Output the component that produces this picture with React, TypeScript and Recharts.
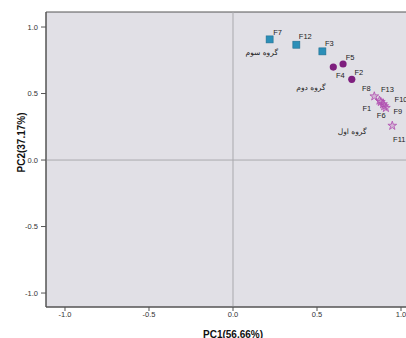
import React from 'react';
import { ScatterChart, Scatter, XAxis, YAxis, ReferenceLine, ReferenceArea } from 'recharts';

const squareNames = ['F7', 'F12', 'F3'];
const squareX = [0.218, 0.377, 0.532];
const squareY = [0.907, 0.867, 0.817];

const circleNames = ['F5', 'F4', 'F2'];
const circleX = [0.655, 0.597, 0.707];
const circleY = [0.722, 0.699, 0.607];

const starNames = ['F8', 'F13', 'F1', 'F10', 'F6', 'F9', 'F11'];
const starX = [0.841, 0.872, 0.88, 0.893, 0.9, 0.91, 0.948];
const starY = [0.479, 0.447, 0.437, 0.42, 0.405, 0.392, 0.258];

const groupNames = ['گروه سوم', 'گروه دوم', 'گروه اول'];
const groupX = [0.171, 0.464, 0.709];
const groupY = [0.805, 0.549, 0.213];

const axisTicks = [-1, -0.5, 0, 0.5, 1];
const xTitle = 'PC1(56.66%)';
const yTitle = 'PC2(37.17%)';

// label placement (text-centre offsets in px from the marker)
const labelOffset: Record<string, [number, number]> = {
  F7: [8, -7], F12: [9, -8], F3: [7, -8],
  F5: [7, -7], F4: [7, 8], F2: [7, -7],
  F8: [-8, -8], F13: [8, -11.5], F1: [-14, 6.5], F10: [18, -5],
  F6: [-3, 9], F9: [12, 4], F11: [7, 14],
};

const build = (names: string[], xs: number[], ys: number[]) =>
  names.map((name, i) => ({ name, x: xs[i], y: ys[i] }));

const squares = build(squareNames, squareX, squareY);
const circles = build(circleNames, circleX, circleY);
const stars = build(starNames, starX, starY);
const groups = build(groupNames, groupX, groupY);

const FONT = 'Liberation Sans, Arial, sans-serif';

const PointLabel = ({ cx, cy, name }: any) => {
  const [dx, dy] = labelOffset[name] || [6, -6];
  return (
    <text x={cx + dx} y={cy + dy} textAnchor="middle" dominantBaseline="central"
      fontSize={7.5} fontFamily={FONT} fill="#222">{name}</text>
  );
};

const SquareShape = (p: any) => (
  <g>
    <rect x={p.cx - 3.5} y={p.cy - 3.5} width={7} height={7} fill="#2b8fb8" stroke="#1f6e8f" strokeWidth={0.6} />
    <PointLabel cx={p.cx} cy={p.cy} name={p.payload.name} />
  </g>
);

const CircleShape = (p: any) => (
  <g>
    <circle cx={p.cx} cy={p.cy} r={3.6} fill="#7e1f7e" />
    <PointLabel cx={p.cx} cy={p.cy} name={p.payload.name} />
  </g>
);

const StarShape = (p: any) => {
  const pts: string[] = [];
  for (let i = 0; i < 10; i++) {
    const r = i % 2 === 0 ? 4.6 : 1.8;
    const a = -Math.PI / 2 + (i * Math.PI) / 5;
    pts.push(`${p.cx + r * Math.cos(a)},${p.cy + r * Math.sin(a)}`);
  }
  return (
    <g>
      <polygon points={pts.join(' ')} fill="rgba(176,80,176,0.3)" stroke="#b04cb0" strokeWidth={0.8} />
      <PointLabel cx={p.cx} cy={p.cy} name={p.payload.name} />
    </g>
  );
};

const GroupText = (p: any) => (
  <text x={p.cx} y={p.cy} textAnchor="middle" dominantBaseline="central"
    fontSize={7.5} fontFamily="DejaVu Sans, sans-serif" fill="#222">{p.payload.name}</text>
);

const YTitle = (props: any) => {
  const vb = props.viewBox || { x: 0, y: 0, width: 0, height: 0 };
  const x = vb.x + 5.5;
  const y = vb.y + vb.height / 2 - 17;
  return (
    <text x={x} y={y} transform={`rotate(-90, ${x}, ${y})`} textAnchor="middle" dominantBaseline="central"
      fontSize={10} fontWeight="bold" fontFamily={FONT} fill="#111">{yTitle}</text>
  );
};

const XTitle = (props: any) => {
  const vb = props.viewBox || { x: 0, y: 0, width: 0, height: 0 };
  const x = vb.x + vb.width / 2;
  const y = vb.y + 27;
  return (
    <text x={x} y={y} textAnchor="middle" dominantBaseline="central"
      fontSize={10} fontWeight="bold" fontFamily={FONT} fill="#111">{xTitle}</text>
  );
};

const fmt = (v: number) => v.toFixed(1);

export default function App() {
  return (
    <div style={{ position: 'fixed', left: 0, top: 0, width: 406, height: 338, overflow: 'hidden', background: '#fff' }}>
      <ScatterChart width={448} height={348} margin={{ top: 12, right: 28, bottom: 0, left: 16 }}
        style={{ fontFamily: FONT }}>
        <XAxis type="number" dataKey="x" domain={[-1.113, 1.113]} ticks={axisTicks} tickFormatter={fmt}
          height={41} tickSize={4} tickMargin={1} allowDataOverflow
          axisLine={{ stroke: '#555' }} tickLine={{ stroke: '#555' }}
          tick={{ fontSize: 7.5, fill: '#333', fontFamily: FONT }} label={<XTitle />} />
        <YAxis type="number" dataKey="y" domain={[-1.105, 1.113]} ticks={axisTicks} tickFormatter={fmt}
          width={30} tickSize={5} tickMargin={3} allowDataOverflow
          axisLine={{ stroke: '#555' }} tickLine={{ stroke: '#555' }}
          tick={{ fontSize: 7.5, fill: '#333', fontFamily: FONT }} label={<YTitle />} />
        <ReferenceArea x1={-1.113} x2={1.113} y1={-1.105} y2={1.113} fill="#e1e0e6" fillOpacity={1}
          stroke="#555" strokeWidth={1} ifOverflow="visible" />
        <ReferenceLine x={0} stroke="#a9a9ad" strokeWidth={1} />
        <ReferenceLine y={0} stroke="#a9a9ad" strokeWidth={1} />
        <Scatter data={groups} shape={GroupText} isAnimationActive={false} />
        <Scatter data={squares} shape={SquareShape} isAnimationActive={false} />
        <Scatter data={circles} shape={CircleShape} isAnimationActive={false} />
        <Scatter data={stars} shape={StarShape} isAnimationActive={false} />
      </ScatterChart>
    </div>
  );
}
